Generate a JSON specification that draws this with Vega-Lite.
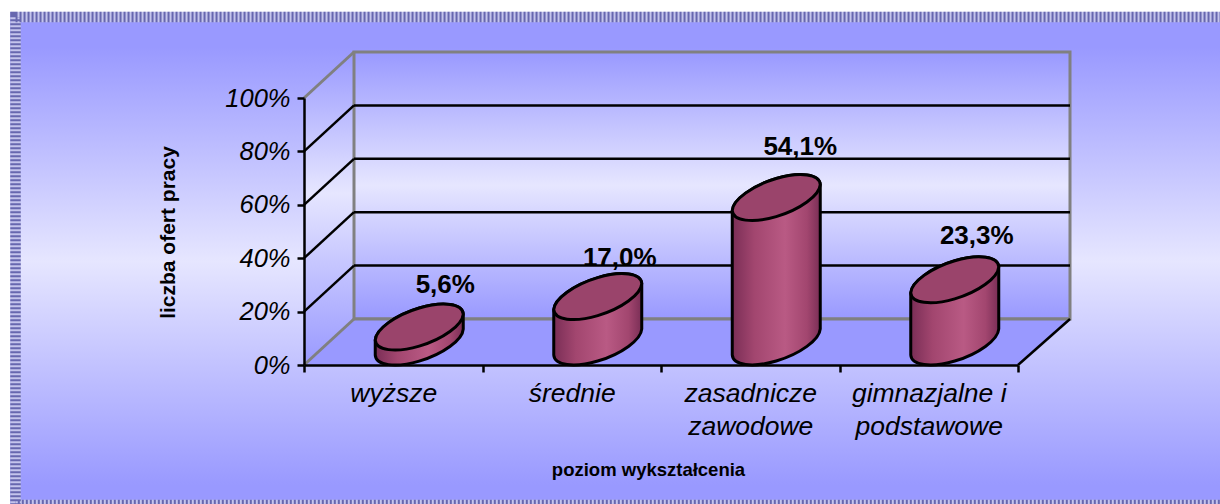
{
"$schema":"https://vega.github.io/schema/vega-lite/v6.json",
"width":714,"height":267,
"autosize":{"type":"none"},
"padding":{"left":304,"top":98,"right":202,"bottom":139},
"background":"#ffffff",
"config":{"view":{"stroke":null},"font":"Liberation Sans"},
"datasets":{
"dane":[{"kat":"wyższe","wartosc":5.6,"etykieta":"5,6%"},{"kat":"średnie","wartosc":17.0,"etykieta":"17,0%"},{"kat":"zasadnicze zawodowe","wartosc":54.1,"etykieta":"54,1%"},{"kat":"gimnazjalne i podstawowe","wartosc":23.3,"etykieta":"23,3%"}],
"siatka":[{"poziom":20},{"poziom":40},{"poziom":60},{"poziom":80}],
"podloga":[{"x":0,"a":0,"b":0},{"x":0.28,"a":0,"b":17.23},{"x":4,"a":0,"b":17.23},{"x":4.29,"a":17.23,"b":17.23}],
"bok":[{"x":0,"a":0,"b":100},{"x":0.28,"a":17.23,"b":117.23}],
"jeden":[{"element":"tlo"}]
},
"resolve":{"scale":{"x":"independent"}},
"layer":[
{"layer":[
{"data":{"name":"jeden"},"mark":{"type":"rect","clip":false,"fill":{"gradient":"linear","x1":0,"y1":0,"x2":0,"y2":1,"stops":[{"offset":0,"color":"#9999ff"},{"offset":0.07,"color":"#9999ff"},{"offset":0.5,"color":"#e6e6ff"},{"offset":0.95,"color":"#9999ff"},{"offset":1,"color":"#9999ff"}]}},
"encoding":{"x":{"datum":-1.647,"type":"quantitative","scale":{"domain":[0,4],"nice":false,"zero":false},"axis":null},"x2":{"datum":5.22},"y":{"datum":132.2,"type":"quantitative","scale":{"domain":[0,100],"nice":false},"axis":{"values":[0,20,40,60,80,100],"zindex":1,"labelExpr":"datum.value+'%'","labelFont":"Liberation Sans","labelFontStyle":"italic","labelFontSize":25.5,"labelColor":"#000000","labelPadding":7,"tickSize":7,"tickWidth":2.5,"tickColor":"#000000","domainColor":"#000000","domainWidth":2.5,"grid":false,"title":"liczba ofert pracy","titleFont":"Liberation Sans","titleFontSize":21,"titleFontWeight":"bold","titleColor":"#000000","titleX":-126,"titleY":134}},"y2":{"datum":-54.3}}},
{"data":{"name":"jeden"},"mark":{"type":"rect","clip":false,"fillOpacity":0,"stroke":"#c4c4ec","strokeWidth":10.5},
"encoding":{"x":{"datum":-1.616,"type":"quantitative"},"x2":{"datum":5.22},"y":{"datum":130.3,"type":"quantitative"},"y2":{"datum":-52.4}}},
{"data":{"name":"jeden"},"mark":{"type":"rect","clip":false,"fillOpacity":0,"stroke":"#5050a0","strokeWidth":10.5,"strokeDash":[2,2],"strokeOpacity":0.8},
"encoding":{"x":{"datum":-1.616,"type":"quantitative"},"x2":{"datum":5.22},"y":{"datum":130.3,"type":"quantitative"},"y2":{"datum":-52.4}}},
{"data":{"name":"bok"},"mark":{"type":"area","clip":false,"fill":{"gradient":"linear","x1":0,"y1":0,"x2":0,"y2":1,"stops":[{"offset":0,"color":"#9999ff"},{"offset":0.45,"color":"#e6e6ff"},{"offset":1,"color":"#9999ff"}]}},
"encoding":{"x":{"field":"x","type":"quantitative"},"y":{"field":"a","type":"quantitative"},"y2":{"field":"b"}}},
{"data":{"name":"jeden"},"mark":{"type":"rect","clip":false,"xOffset":50,"x2Offset":52,"yOffset":-46,"y2Offset":-46,"stroke":"#808080","strokeWidth":3,"fill":{"gradient":"linear","x1":0,"y1":0,"x2":0,"y2":1,"stops":[{"offset":0,"color":"#9999ff"},{"offset":0.5,"color":"#e6e6ff"},{"offset":1,"color":"#9999ff"}]}},
"encoding":{"x":{"datum":0,"type":"quantitative"},"x2":{"datum":4},"y":{"datum":100,"type":"quantitative"},"y2":{"datum":0}}},
{"data":{"name":"podloga"},"mark":{"type":"area","clip":false,"fill":"#9999ff"},
"encoding":{"x":{"field":"x","type":"quantitative"},"y":{"field":"a","type":"quantitative"},"y2":{"field":"b"}}},
{"data":{"name":"jeden"},"mark":{"type":"rule","clip":false,"xOffset":50,"x2Offset":52,"yOffset":-46,"y2Offset":-46,"color":"#808080","strokeWidth":3},
"encoding":{"x":{"datum":0,"type":"quantitative"},"x2":{"datum":4},"y":{"datum":0,"type":"quantitative"},"y2":{"datum":0}}},
{"data":{"name":"siatka"},"mark":{"type":"rule","clip":false,"xOffset":50,"x2Offset":52,"yOffset":-46,"y2Offset":-46,"color":"#000000","strokeWidth":2.5},
"encoding":{"x":{"datum":0,"type":"quantitative"},"x2":{"datum":4},"y":{"field":"poziom","type":"quantitative"},"y2":{"field":"poziom"}}},
{"data":{"name":"siatka"},"mark":{"type":"rule","clip":false,"x2Offset":50,"y2Offset":-46,"color":"#000000","strokeWidth":2.5},
"encoding":{"x":{"datum":0,"type":"quantitative"},"x2":{"datum":0},"y":{"field":"poziom","type":"quantitative"},"y2":{"field":"poziom"}}},
{"data":{"name":"jeden"},"mark":{"type":"rule","clip":false,"x2Offset":50,"y2Offset":-46,"color":"#808080","strokeWidth":3},
"encoding":{"x":{"datum":0,"type":"quantitative"},"x2":{"datum":0},"y":{"datum":100,"type":"quantitative"},"y2":{"datum":100}}},
{"data":{"name":"jeden"},"mark":{"type":"rule","clip":false,"x2Offset":50,"y2Offset":-46,"color":"#808080","strokeWidth":3},
"encoding":{"x":{"datum":0,"type":"quantitative"},"x2":{"datum":0},"y":{"datum":0,"type":"quantitative"},"y2":{"datum":0}}},
{"data":{"name":"jeden"},"mark":{"type":"rule","clip":false,"x2Offset":52,"y2Offset":-46,"color":"#000000","strokeWidth":2.5},
"encoding":{"x":{"datum":4,"type":"quantitative"},"x2":{"datum":4},"y":{"datum":0,"type":"quantitative"},"y2":{"datum":0}}}
]},
{"data":{"name":"dane"},"layer":[
{"mark":{"type":"point","filled":true,"clip":false,"size":4,"xOffset":26,"yOffset":-23,"opacity":1,"stroke":"#000000","strokeWidth":3,"fill":{"gradient":"linear","x1":0,"y1":0,"x2":1,"y2":0,"stops":[{"offset":0,"color":"#7a2e56"},{"offset":0.25,"color":"#a2466f"},{"offset":0.6,"color":"#b95a84"},{"offset":0.85,"color":"#a2466f"},{"offset":1,"color":"#7a2e56"}]}},
"encoding":{"x":{"field":"kat","type":"nominal","sort":null,"scale":{"domain":["wyższe","średnie","zasadnicze zawodowe","gimnazjalne i podstawowe"],"paddingInner":0,"paddingOuter":0},"axis":{"orient":"bottom","zindex":1,"labelAngle":0,"labelFont":"Liberation Sans","labelFontStyle":"italic","labelFontSize":26.5,"labelColor":"#000000","labelLineHeight":33,"labelPadding":8,"labelExpr":"datum.label=='zasadnicze zawodowe'?['zasadnicze','zawodowe']:datum.label=='gimnazjalne i podstawowe'?['gimnazjalne i','podstawowe']:datum.label","tickBand":"extent","tickSize":7,"tickWidth":2.5,"tickColor":"#000000","domainColor":"#000000","domainWidth":2.5,"title":"poziom wykształcenia","titleFont":"Liberation Sans","titleFontSize":18.5,"titleFontWeight":"bold","titleColor":"#000000","titleX":344,"titleY":95}},"y":{"field":"wartosc","type":"quantitative"},"shape":{"field":"kat","type":"nominal","legend":null,"scale":{"domain":["wyższe","średnie","zasadnicze zawodowe","gimnazjalne i podstawowe"],"range":["M-44 13 L-44 28 A46.3 18.6 -19.8 0 0 44 2 L44 -13 A46.3 18.6 -19.8 0 0 -44 13 Z","M-44 13 L-44 58.4 A46.3 18.6 -19.8 0 0 44 32.4 L44 -13 A46.3 18.6 -19.8 0 0 -44 13 Z","M-44 13 L-44 157.4 A46.3 18.6 -19.8 0 0 44 131.4 L44 -13 A46.3 18.6 -19.8 0 0 -44 13 Z","M-44 13 L-44 75.2 A46.3 18.6 -19.8 0 0 44 49.2 L44 -13 A46.3 18.6 -19.8 0 0 -44 13 Z"]}}}},
{"mark":{"type":"point","filled":true,"clip":false,"size":4,"xOffset":26,"yOffset":-23,"opacity":1,"stroke":"#000000","strokeWidth":3,"fill":"#9a446b","shape":"M-44 13 A46.3 18.6 -19.8 0 0 44 -13 A46.3 18.6 -19.8 0 0 -44 13 Z"},
"encoding":{"x":{"field":"kat","type":"nominal"},"y":{"field":"wartosc","type":"quantitative"}}},
{"transform":[{"filter":"datum.wartosc==5.6"}],"mark":{"type":"text","clip":false,"font":"Liberation Sans","fontWeight":"bold","fontSize":26,"color":"#000000","xOffset":52,"yOffset":-65},"encoding":{"x":{"field":"kat","type":"nominal"},"y":{"field":"wartosc","type":"quantitative"},"text":{"field":"etykieta"}}},
{"transform":[{"filter":"datum.wartosc==17"}],"mark":{"type":"text","clip":false,"font":"Liberation Sans","fontWeight":"bold","fontSize":26,"color":"#000000","xOffset":48,"yOffset":-62},"encoding":{"x":{"field":"kat","type":"nominal"},"y":{"field":"wartosc","type":"quantitative"},"text":{"field":"etykieta"}}},
{"transform":[{"filter":"datum.wartosc==54.1"}],"mark":{"type":"text","clip":false,"font":"Liberation Sans","fontWeight":"bold","fontSize":26,"color":"#000000","xOffset":50,"yOffset":-74},"encoding":{"x":{"field":"kat","type":"nominal"},"y":{"field":"wartosc","type":"quantitative"},"text":{"field":"etykieta"}}},
{"transform":[{"filter":"datum.wartosc==23.3"}],"mark":{"type":"text","clip":false,"font":"Liberation Sans","fontWeight":"bold","fontSize":26,"color":"#000000","xOffset":48,"yOffset":-67},"encoding":{"x":{"field":"kat","type":"nominal"},"y":{"field":"wartosc","type":"quantitative"},"text":{"field":"etykieta"}}}
]}
]
}
